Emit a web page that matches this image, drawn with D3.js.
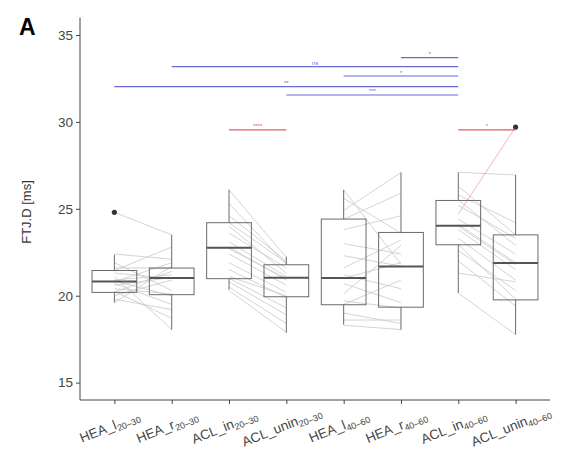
<!DOCTYPE html>
<html>
<head>
<meta charset="utf-8">
<script src="https://cdn.jsdelivr.net/npm/d3@7"></script>
<style>
  body { margin: 0; background: #fff; }
  svg { font-family: "Liberation Sans", Arial, sans-serif; }
</style>
</head>
<body>
<div id="chart"></div>
<script>
// categories on the x axis (name + subscript)
const groupNames = ['HEA_l', 'HEA_r', 'ACL_in', 'ACL_unin', 'HEA_l', 'HEA_r', 'ACL_in', 'ACL_unin'];
const groupSubs = ['20–30', '20–30', '20–30', '20–30', '40–60', '40–60', '40–60', '40–60'];

// box stats per group: lower whisker, q1, median, q3, upper whisker
const whiskerLow = [19.6, 18.05, 20.34, 17.87, 18.33, 18.05, 20.15, 17.76];
const q1 = [20.19, 20.06, 20.98, 19.94, 19.48, 19.34, 22.93, 19.76];
const median = [20.82, 21.02, 22.76, 21.03, 21.02, 21.68, 24.02, 21.88];
const q3 = [21.45, 21.59, 24.2, 21.78, 24.41, 23.64, 25.48, 23.5];
const whiskerHigh = [22.36, 23.5, 26.09, 22.24, 26.09, 27.09, 27.09, 26.95];

// outliers
const outlierGroup = [0, 7];
const outlierValue = [24.8, 29.7];

// paired subjects (left group -> right group)
const hea2030L = [24.8, 22.4, 21.9, 21.6, 21.45, 21.3, 21.1, 20.9, 20.85, 20.8, 20.7, 20.6, 20.4, 20.25, 20.2, 20.0, 19.8, 19.6];
const hea2030R = [23.5, 22.1, 20.3, 21.6, 22.8, 21.0, 18.05, 21.2, 20.0, 21.9, 19.5, 21.05, 20.1, 18.7, 21.4, 20.9, 19.2, 21.7];
const acl2030In = [26.1, 25.3, 24.6, 24.2, 24.0, 23.6, 23.1, 22.8, 22.7, 22.4, 21.9, 21.5, 21.1, 21.0, 20.8, 20.5, 20.3];
const acl2030Unin = [22.2, 21.8, 22.0, 21.9, 21.3, 21.6, 21.1, 20.9, 21.0, 20.6, 20.2, 19.9, 20.0, 19.3, 18.9, 18.4, 17.9];
const hea4060L = [26.1, 25.6, 24.9, 24.4, 23.8, 23.0, 22.3, 21.6, 21.2, 21.0, 20.7, 20.1, 19.7, 19.5, 19.0, 18.6, 18.3];
const hea4060R = [21.8, 23.6, 27.09, 25.9, 24.6, 22.4, 21.7, 23.2, 20.4, 21.9, 19.6, 22.9, 19.3, 20.9, 18.4, 18.6, 18.05];
const acl4060In = [27.1, 26.3, 25.8, 25.5, 25.2, 24.7, 24.4, 24.1, 24.0, 23.8, 23.3, 22.95, 22.6, 22.0, 21.3, 20.15];
const acl4060Unin = [26.95, 23.5, 24.2, 22.9, 23.3, 29.7, 22.4, 21.9, 21.8, 21.5, 20.9, 19.8, 20.3, 19.4, 20.8, 17.76];

// significance brackets
const sigFrom = [5, 1, 4, 0, 3, 2, 6];
const sigTo = [6, 6, 6, 6, 6, 3, 7];
const sigY = [33.7, 33.18, 32.64, 32.03, 31.55, 29.54, 29.54];
const sigLabel = ['*', 'ns', '*', '**', '***', '****', '*'];
const sigKind = ['blue', 'blue', 'blue', 'blue', 'blue', 'red', 'red'];

const width = 579, height = 459;
const plotLeft = 80, plotRight = 550, plotTop = 17.6, plotBottom = 400;

const svg = d3.select('#chart').append('svg')
	.attr('width', width)
	.attr('height', height);

const x = d3.scalePoint().domain(d3.range(groupNames.length)).range([plotLeft, plotRight]).padding(0.6);
const y = d3.scaleLinear().domain([14, 36]).range([plotBottom, plotTop]);
const boxW = x.step() * 0.78;

// paired lines
const pairs = [
	{ a: 0, b: 1, l: hea2030L, r: hea2030R },
	{ a: 2, b: 3, l: acl2030In, r: acl2030Unin },
	{ a: 4, b: 5, l: hea4060L, r: hea4060R },
	{ a: 6, b: 7, l: acl4060In, r: acl4060Unin }
];
const isOutlier = (g, v) => outlierGroup.some((og, k) => og == g && outlierValue[k] == v);
const lineG = svg.append('g');
pairs.forEach((p) => {
	p.l.forEach((v, i) => {
		const hi = isOutlier(p.b, p.r[i]);
		lineG.append('line')
			.attr('x1', x(p.a)).attr('y1', y(v))
			.attr('x2', x(p.b)).attr('y2', y(p.r[i]))
			.style('stroke', hi ? '#f0a0a8' : '#c8c8c8')
			.style('stroke-width', 0.8);
	});
});

// boxes
const boxG = svg.append('g').selectAll('g').data(d3.range(groupNames.length)).enter().append('g');
boxG.append('line')
	.attr('x1', (i) => x(i)).attr('x2', (i) => x(i))
	.attr('y1', (i) => y(whiskerHigh[i])).attr('y2', (i) => y(q3[i]))
	.style('stroke', '#6a6a6a').style('stroke-width', 1);
boxG.append('line')
	.attr('x1', (i) => x(i)).attr('x2', (i) => x(i))
	.attr('y1', (i) => y(q1[i])).attr('y2', (i) => y(whiskerLow[i]))
	.style('stroke', '#6a6a6a').style('stroke-width', 1);
boxG.append('rect')
	.attr('x', (i) => x(i) - boxW / 2)
	.attr('width', boxW)
	.attr('y', (i) => y(q3[i]))
	.attr('height', (i) => y(q1[i]) - y(q3[i]))
	.style('fill', 'none')
	.style('stroke', '#6a6a6a').style('stroke-width', 1);
boxG.append('line')
	.attr('x1', (i) => x(i) - boxW / 2).attr('x2', (i) => x(i) + boxW / 2)
	.attr('y1', (i) => y(median[i])).attr('y2', (i) => y(median[i]))
	.style('stroke', '#555').style('stroke-width', 2);

// outliers
svg.append('g').selectAll('circle').data(outlierGroup).enter().append('circle')
	.attr('cx', (g) => x(g))
	.attr('cy', (g, i) => y(outlierValue[i]))
	.attr('r', 2.6)
	.style('fill', '#333');

// significance brackets
const colors = { blue: '#6a6ad6', red: '#e25a5f' };
sigFrom.forEach((f, i) => {
	svg.append('line')
		.attr('x1', x(f)).attr('x2', x(sigTo[i]))
		.attr('y1', y(sigY[i])).attr('y2', y(sigY[i]))
		.style('stroke', colors[sigKind[i]]).style('stroke-width', 1.1);
	svg.append('text')
		.attr('x', (x(f) + x(sigTo[i])) / 2)
		.attr('y', y(sigY[i]) - 1.5)
		.attr('text-anchor', 'middle')
		.style('font-size', '6px')
		.style('fill', colors[sigKind[i]])
		.text(sigLabel[i]);
});

// axes
const yAxis = svg.append('g')
	.attr('transform', 'translate(' + plotLeft + ',0)')
	.call(d3.axisLeft(y).tickValues([15, 20, 25, 30, 35]).tickSize(4).tickPadding(3));
yAxis.select('.domain').attr('d', 'M0,' + plotBottom + 'V' + plotTop).style('stroke', '#444');
yAxis.selectAll('.tick line').style('stroke', '#444');
yAxis.selectAll('.tick text').style('font-size', '13.5px').style('fill', '#444').attr('font-family', null);

const xAxis = svg.append('g')
	.attr('transform', 'translate(0,' + plotBottom + ')')
	.call(d3.axisBottom(x).tickSize(4).tickFormat(''));
xAxis.select('.domain').attr('d', 'M' + plotLeft + ',0H' + plotRight).style('stroke', '#444');
xAxis.selectAll('.tick line').style('stroke', '#444');

// rotated x labels with subscripts
groupNames.forEach((name, i) => {
	const t = svg.append('text')
		.attr('transform', 'translate(' + (x(i) - 3) + ',' + 431 + ') rotate(-22)')
		.attr('text-anchor', 'middle')
		.style('font-size', '13.5px')
		.style('fill', '#444');
	t.append('tspan').text(name);
	t.append('tspan').attr('dy', 3).style('font-size', '9px').text(groupSubs[i]);
});

// y label
svg.append('text')
	.attr('transform', 'translate(31,' + 212 + ') rotate(-90)')
	.attr('text-anchor', 'middle')
	.style('font-size', '13px')
	.style('fill', '#333')
	.text('FTJ.D [ms]');

// panel tag
svg.append('text')
	.attr('x', 19).attr('y', 35)
	.style('font-size', '23px')
	.style('font-weight', 'bold')
	.text('A');
</script>
</body>
</html>
